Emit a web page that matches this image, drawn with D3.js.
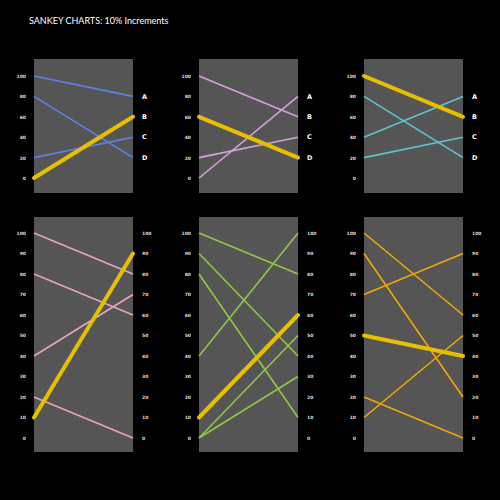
<!DOCTYPE html>
<html>
<head>
<meta charset="utf-8">
<script src="https://cdn.jsdelivr.net/npm/d3@7"></script>
<style>
  html, body { margin: 0; padding: 0; background: #000; }
  svg { display: block; }
</style>
</head>
<body>
<div id="chart"></div>
<script>
// Axis ticks and end labels
const topTicks = [0, 20, 40, 60, 80, 100];
const bottomTicks = [0, 10, 20, 30, 40, 50, 60, 70, 80, 90, 100];
const endLabels = ["A", "B", "C", "D"];
const endLabelValues = [80, 60, 40, 20];

// Each chart: start values (left), end values (right), index of the highlighted flow
const chart1Start = [100, 80, 20, 0];
const chart1End = [80, 20, 40, 60];
const chart1Highlight = 3;

const chart2Start = [100, 0, 20, 60];
const chart2End = [60, 80, 40, 20];
const chart2Highlight = 3;

const chart3Start = [80, 40, 20, 100];
const chart3End = [20, 80, 40, 60];
const chart3Highlight = 3;

const chart4Start = [100, 80, 40, 20, 10];
const chart4End = [80, 60, 70, 0, 90];
const chart4Highlight = 4;

const chart5Start = [100, 90, 80, 40, 0, 0, 10];
const chart5End = [80, 40, 10, 100, 50, 30, 60];
const chart5Highlight = 6;

const chart6Start = [100, 90, 70, 20, 10, 50];
const chart6End = [60, 20, 90, 0, 50, 40];
const chart6Highlight = 5;

const width = 500, height = 500;
const highlightColor = "#e6c000";

const svg = d3.select("#chart")
  .append("svg")
  .attr("width", width)
  .attr("height", height)
  .style("background", "#000");

svg.append("text")
  .attr("x", 29)
  .attr("y", 24)
  .attr("fill", "#fff")
  .attr("font-family", "Lato, 'Open Sans', sans-serif")
  .attr("font-size", 9)
  .text("SANKEY CHARTS: 10% Increments");

// Layout for each of the six panels
const panels = [
  { start: chart1Start, end: chart1End, hi: chart1Highlight, color: "#5b83e6", x0: 34, top: true },
  { start: chart2Start, end: chart2End, hi: chart2Highlight, color: "#d7a0de", x0: 199, top: true },
  { start: chart3Start, end: chart3End, hi: chart3Highlight, color: "#5ec4d0", x0: 364, top: true },
  { start: chart4Start, end: chart4End, hi: chart4Highlight, color: "#e8a3bd", x0: 34, top: false },
  { start: chart5Start, end: chart5End, hi: chart5Highlight, color: "#8fc942", x0: 199, top: false },
  { start: chart6Start, end: chart6End, hi: chart6Highlight, color: "#f0a800", x0: 364, top: false }
];

panels.forEach(p => {
  const w = 99;
  const boxTop = p.top ? 59 : 217;
  const boxBottom = p.top ? 193 : 452;
  const y = d3.scaleLinear()
    .domain([0, 100])
    .range(p.top ? [178, 76] : [438, 233]);
  const x = d3.scaleLinear().domain([0, 1]).range([p.x0, p.x0 + w]);

  const g = svg.append("g");

  g.append("rect")
    .attr("x", p.x0)
    .attr("y", boxTop)
    .attr("width", w)
    .attr("height", boxBottom - boxTop)
    .attr("fill", "#555555");

  // left axis labels
  const leftAxis = d3.axisLeft(y)
    .tickValues(p.top ? topTicks : bottomTicks)
    .tickSize(0)
    .tickPadding(8);
  const la = g.append("g")
    .attr("transform", `translate(${p.x0},0)`)
    .call(leftAxis);
  la.select(".domain").remove();
  la.selectAll("text")
    .attr("fill", "#ddd")
    .attr("font-family", "'DejaVu Sans', sans-serif")
    .attr("font-weight", "bold")
    .attr("font-size", 4.5);

  if (p.top) {
    g.selectAll("text.end")
      .data(endLabels)
      .enter()
      .append("text")
      .attr("class", "end")
      .attr("x", p.x0 + w + 9)
      .attr("y", (d, i) => y(endLabelValues[i]))
      .attr("dy", "0.35em")
      .attr("fill", "#fff")
      .attr("font-family", "'DejaVu Sans', sans-serif")
      .attr("font-weight", "bold")
      .attr("font-size", 6.5)
      .text(d => d);
  } else {
    const rightAxis = d3.axisRight(y)
      .tickValues(bottomTicks)
      .tickSize(0)
      .tickPadding(9);
    const ra = g.append("g")
      .attr("transform", `translate(${p.x0 + w},0)`)
      .call(rightAxis);
    ra.select(".domain").remove();
    ra.selectAll("text")
      .attr("fill", "#ddd")
      .attr("font-family", "'DejaVu Sans', sans-serif")
      .attr("font-weight", "bold")
      .attr("font-size", 4.5);
  }

  // flows, highlighted one drawn last
  const order = p.start.map((d, i) => i).filter(i => i !== p.hi).concat([p.hi]);
  g.selectAll("line.flow")
    .data(order)
    .enter()
    .append("line")
    .attr("class", "flow")
    .attr("x1", x(0))
    .attr("x2", x(1))
    .attr("y1", i => y(p.start[i]))
    .attr("y2", i => y(p.end[i]))
    .attr("stroke", i => i === p.hi ? highlightColor : p.color)
    .attr("stroke-width", i => i === p.hi ? 4 : 1.6)
    .attr("stroke-linecap", i => i === p.hi ? "round" : "butt");
});
</script>
</body>
</html>
